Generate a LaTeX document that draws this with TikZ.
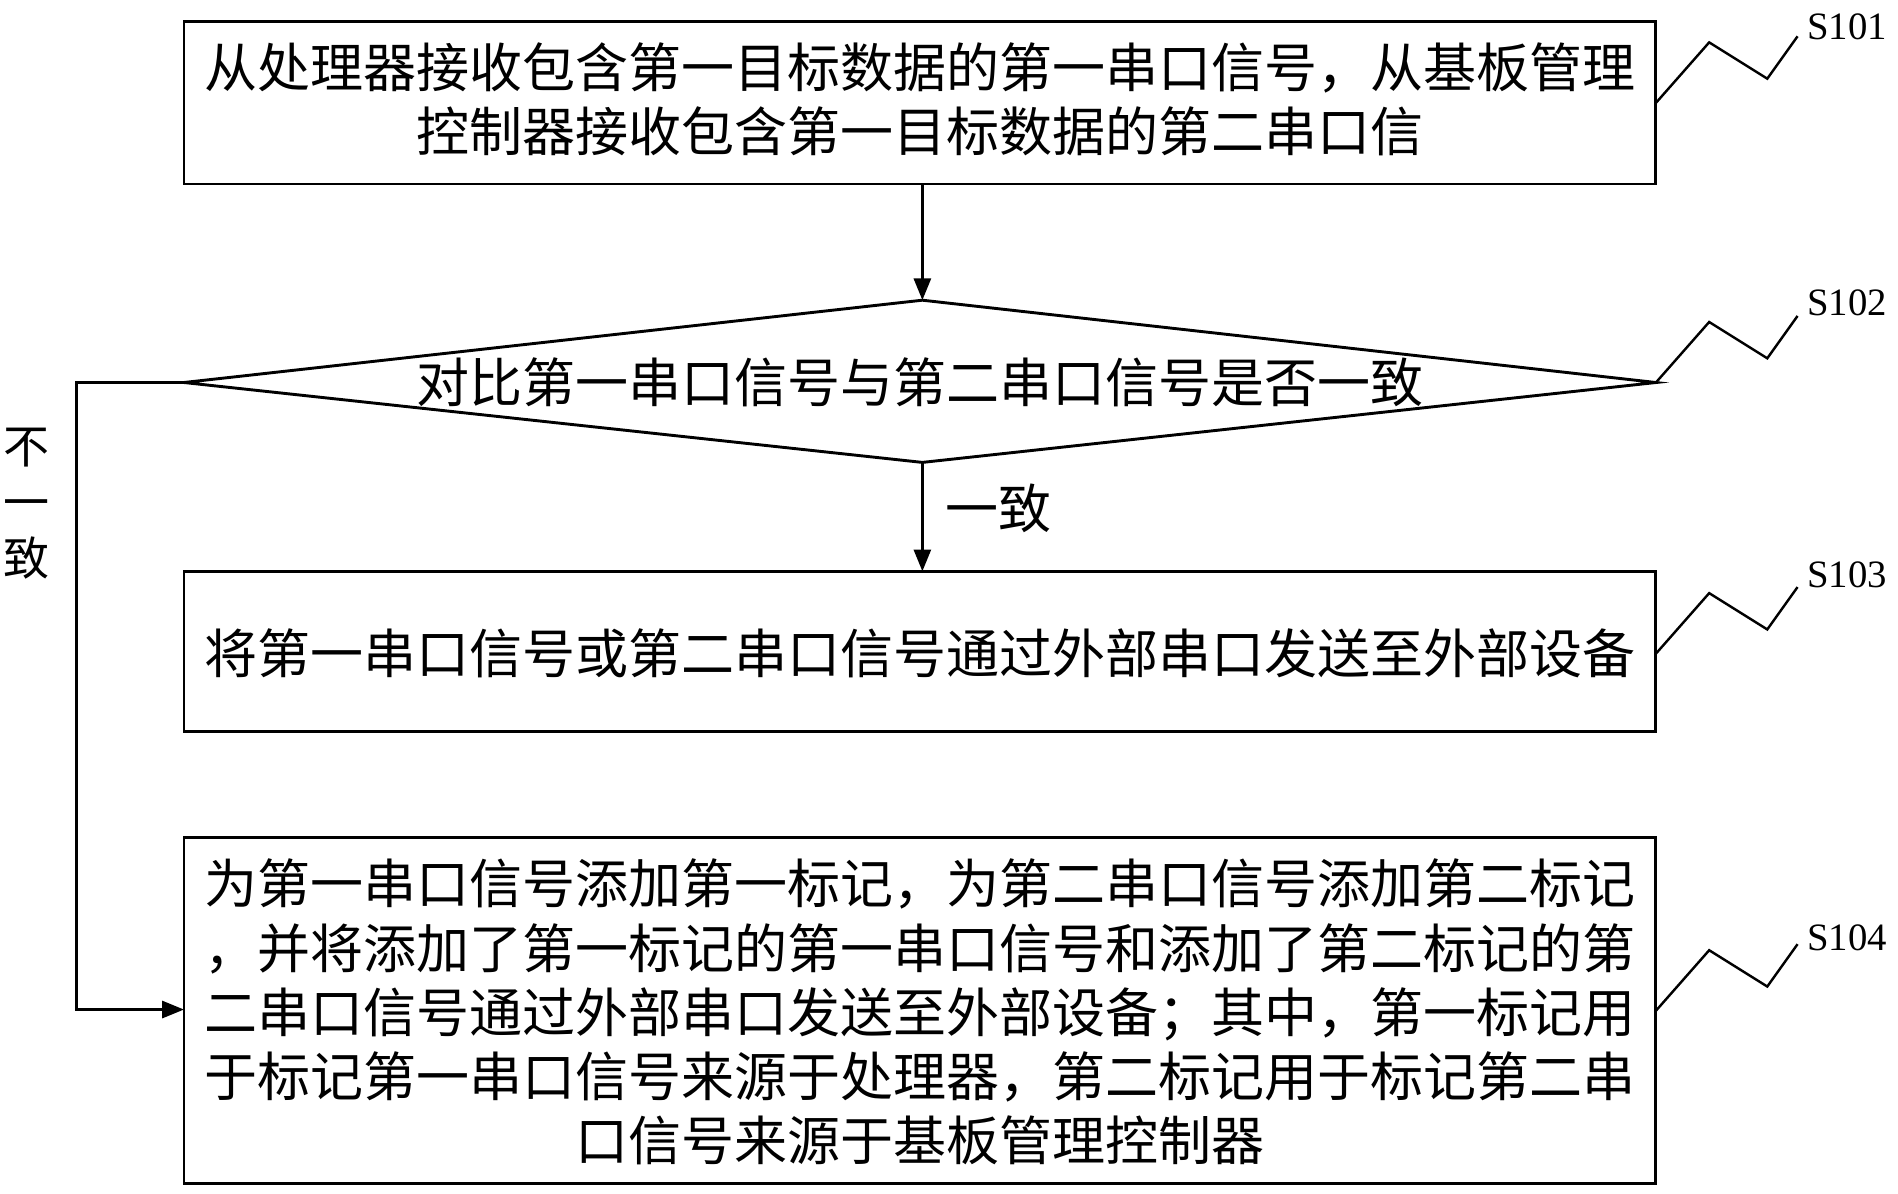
\documentclass[tikz,border=0pt]{standalone}
\usepackage{fontspec}
\setmainfont{Liberation Serif}
\newfontfamily\cjk{Noto Sans CJK SC}
\usetikzlibrary{arrows.meta}
\begin{document}
\begin{tikzpicture}[x=0.5pt,y=-0.5pt,
  box/.style={draw,line width=1.2pt},
  txt/.style={font=\cjk\fontsize{21.9}{26.5}\selectfont,align=center,inner sep=0},
  arr/.style={line width=1.2pt,-{Triangle[length=9pt,width=7pt]}},
  sq/.style={line width=1pt},
  lab/.style={font=\fontsize{16}{18}\selectfont}]
\useasboundingbox (0,0) rectangle (1568,986);
\draw[box] (152,18) rectangle (1368,152);
\node[txt] (t1) at (760,82) {从处理器接收包含第一目标数据的第一串口信号，从基板管理\\控制器接收包含第一目标数据的第二串口信};
\coordinate (b1) at (762,152);
\coordinate (dt) at (762,248);
\draw[box] (152,316) coordinate (dl) -- (762,248) -- (1368,316) coordinate (dr) -- (762,382) coordinate (db) -- cycle;
\node[txt] (t2) at (760,316) {对比第一串口信号与第二串口信号是否一致};
\draw[box] (152,472) rectangle (1368,604);
\node[txt] (t3) at (760,540) {将第一串口信号或第二串口信号通过外部串口发送至外部设备};
\coordinate (b3t) at (762,472);
\draw[box] (152,692) rectangle (1368,978);
\node[txt] (t4) at (760,836) {为第一串口信号添加第一标记，为第二串口信号添加第二标记\\，并将添加了第一标记的第一串口信号和添加了第二标记的第\\二串口信号通过外部串口发送至外部设备；其中，第一标记用\\于标记第一串口信号来源于处理器，第二标记用于标记第二串\\口信号来源于基板管理控制器};
\coordinate (b4l) at (152,834);
\draw[arr] (b1) -- (dt);
\draw[arr] (db) -- (b3t);
\node[txt] (y) at (825,420) {一致};
\draw[arr] (dl) -- (63,316) -- (63,834) -- (b4l);
\node[txt,align=center,font=\cjk\fontsize{19}{23}\selectfont] (n) at (22,416) {不\\一\\致};
\foreach \yy/\s/\ly in {85/S101/22, 316/S102/250, 540/S103/475, 835/S104/775}{
  \draw[sq] (1368,\yy) -- (1412,\yy-50) -- (1460,\yy-20) -- (1485,\yy-55);
  \node[lab] at (1526,\ly) {\s};
}
\end{tikzpicture}
\end{document}
